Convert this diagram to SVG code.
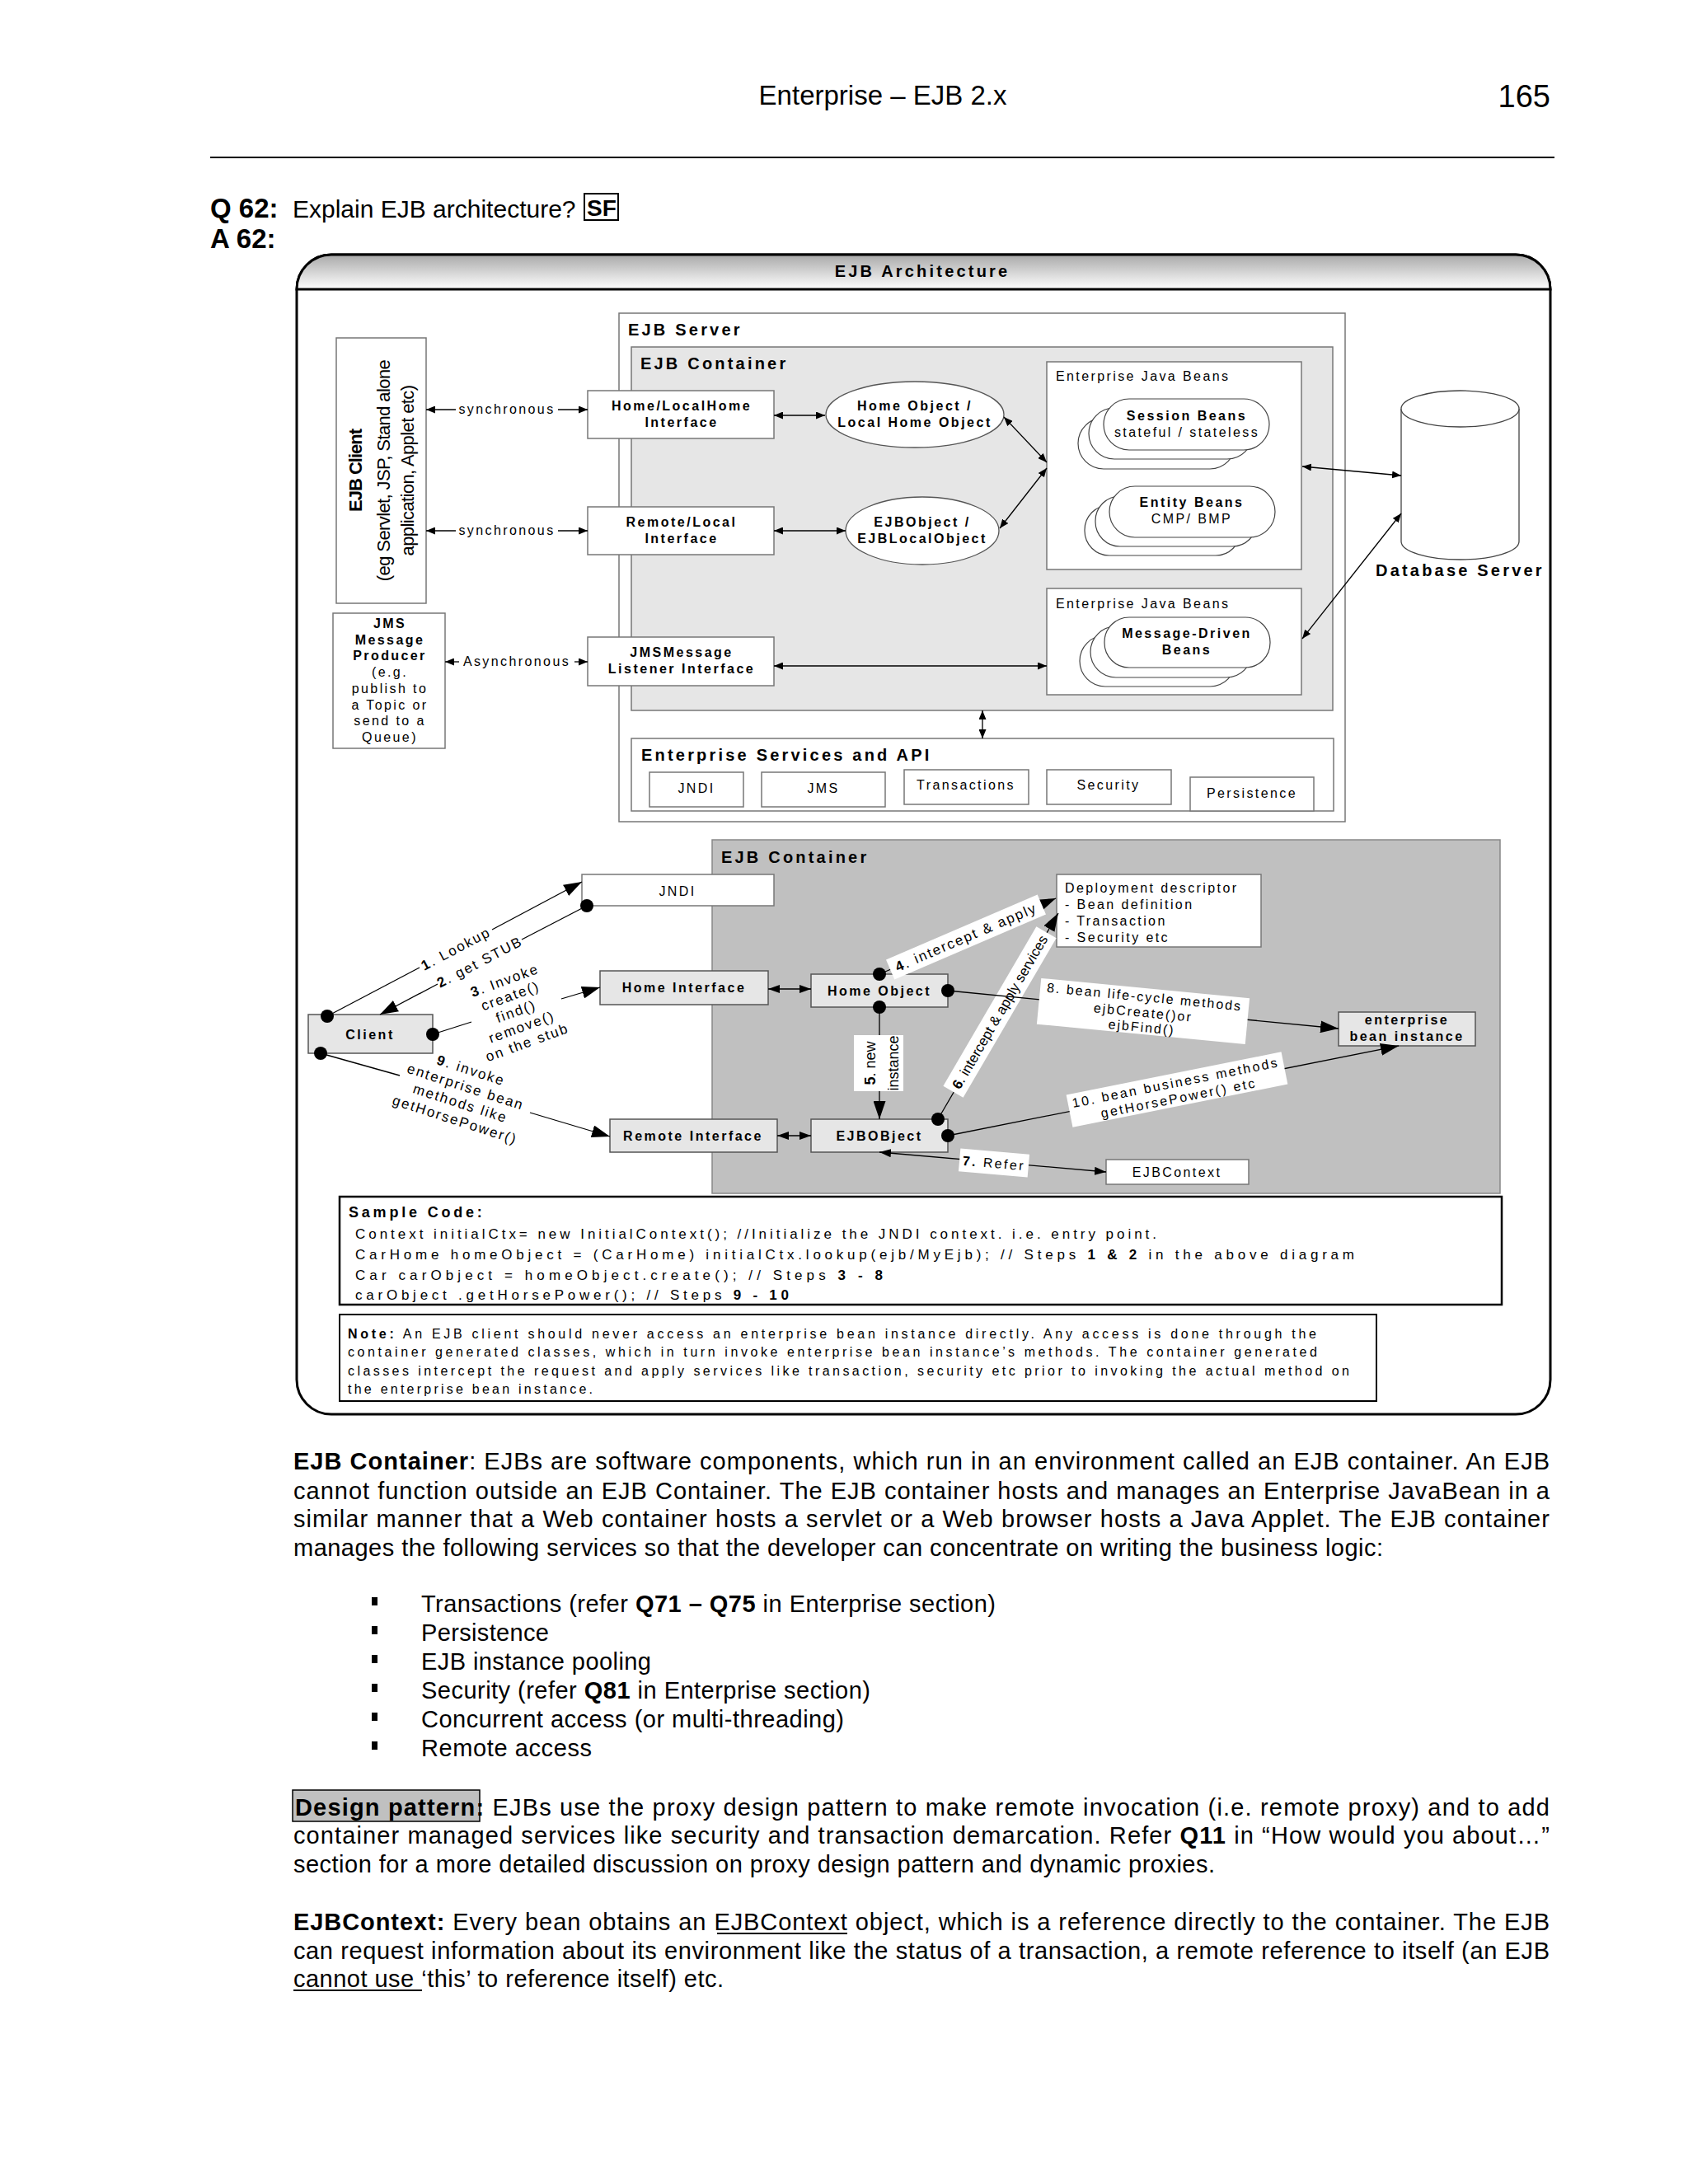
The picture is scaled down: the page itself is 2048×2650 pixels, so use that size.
<svg xmlns="http://www.w3.org/2000/svg" width="2048" height="2650" viewBox="0 0 2048 2650">
<style>
text{font-family:"Liberation Sans",Arial,sans-serif;fill:#000}
.b{font-weight:bold}
.lb{font-size:16px;letter-spacing:2.4px}
.lbb{font-size:16px;letter-spacing:2.5px;font-weight:bold}
.hd{font-size:20px;letter-spacing:3.2px;font-weight:bold}
.rl{font-size:17px;letter-spacing:2px}
.body{font-size:29px}
.box{fill:#fff;stroke:#777;stroke-width:1.5}
.gbox{fill:#e6e6e6;stroke:#555;stroke-width:1.5}
.ln{stroke:#000;stroke-width:1.3;fill:none}
.dot{fill:#000}
.wl{fill:#fff;stroke:none}
</style>
<defs>
<linearGradient id="hg" x1="0" y1="0" x2="0" y2="1">
<stop offset="0" stop-color="#a9a9a9"/><stop offset="1" stop-color="#ffffff"/>
</linearGradient>
<marker id="sa" viewBox="0 0 11 9" refX="11" refY="4.5" markerWidth="11" markerHeight="9" markerUnits="userSpaceOnUse" orient="auto-start-reverse"><path d="M0,0 L11,4.5 L0,9 z"/></marker>
<marker id="ma" viewBox="0 0 14 10" refX="14" refY="5" markerWidth="14" markerHeight="10" markerUnits="userSpaceOnUse" orient="auto-start-reverse"><path d="M0,0 L14,5 L0,10 z"/></marker>
<marker id="la" viewBox="0 0 22 15" refX="22" refY="7.5" markerWidth="22" markerHeight="15" markerUnits="userSpaceOnUse" orient="auto-start-reverse"><path d="M0,0 L22,7.5 L0,15 z"/></marker>
</defs>
<rect width="2048" height="2650" fill="#fff"/>

<!-- page header -->
<g id="page-header">
<text x="1071" y="127" font-size="33" text-anchor="middle">Enterprise – EJB 2.x</text>
<text x="1881" y="130" font-size="38" text-anchor="end">165</text>
<line x1="255" y1="191" x2="1886" y2="191" stroke="#000" stroke-width="2"/>
<text x="255" y="264" font-size="33" class="b">Q 62:</text>
<text x="355" y="264" font-size="30">Explain EJB architecture?</text>
<text x="712" y="262" font-size="28" class="b">SF</text>
<rect x="709" y="235" width="41" height="32" fill="none" stroke="#000" stroke-width="2"/>
<text x="255" y="301" font-size="33" class="b">A 62:</text>
</g>

<!-- frame -->
<g id="frame">
<path d="M402,309 L1839,309 A42,42 0 0 1 1881,351 L1881,1674 A42,42 0 0 1 1839,1716 L402,1716 A42,42 0 0 1 360,1674 L360,351 A42,42 0 0 1 402,309 Z" fill="#fff" stroke="#000" stroke-width="3"/>
<path d="M360,351 A42,42 0 0 1 402,309 L1839,309 A42,42 0 0 1 1881,351 Z" fill="url(#hg)" stroke="#000" stroke-width="3"/>
<text x="1119" y="336" class="hd" font-size="19" text-anchor="middle">EJB Architecture</text>
</g>

<!-- upper architecture -->
<g id="ejb-server">
<rect x="751" y="380" width="881" height="617" class="box"/>
<text x="762" y="407" class="hd">EJB Server</text>
</g>
<g id="ejb-container-top">
<rect x="766" y="421" width="851" height="441" fill="#e6e6e6" stroke="#777" stroke-width="1.5"/>
<text x="777" y="448" class="hd">EJB Container</text>
</g>
<g id="ejb-client">
<rect x="408" y="410" width="109" height="322" class="box"/>
<text transform="translate(439,571) rotate(-90)" font-size="22" class="b" letter-spacing="-1" text-anchor="middle">EJB Client</text>
<text transform="translate(473,571) rotate(-90)" font-size="22" letter-spacing="-0.6" text-anchor="middle">(eg Servlet, JSP, Stand alone</text>
<text transform="translate(502,571) rotate(-90)" font-size="22" letter-spacing="-0.6" text-anchor="middle">application, Applet etc)</text>
</g>
<g id="jms-producer">
<rect x="404" y="744" width="136" height="164" class="box"/>
<g text-anchor="middle" class="lb">
<text x="473" y="762" class="b">JMS</text>
<text x="473" y="782" class="b">Message</text>
<text x="473" y="801" class="b">Producer</text>
<text x="473" y="821">(e.g.</text>
<text x="473" y="841">publish  to</text>
<text x="473" y="861">a Topic or</text>
<text x="473" y="880">send to a</text>
<text x="473" y="900">Queue)</text>
</g>
</g>
<g id="home-interface-top">
<rect x="713" y="474" width="226" height="58" class="box"/>
<text x="827" y="498" class="lbb" text-anchor="middle">Home/LocalHome</text>
<text x="827" y="518" class="lbb" text-anchor="middle">Interface</text>
</g>
<g id="remote-interface-top">
<rect x="713" y="615" width="226" height="58" class="box"/>
<text x="827" y="639" class="lbb" text-anchor="middle">Remote/Local</text>
<text x="827" y="659" class="lbb" text-anchor="middle">Interface</text>
</g>
<g id="jms-listener">
<rect x="713" y="773" width="226" height="59" class="box"/>
<text x="827" y="797" class="lbb" text-anchor="middle">JMSMessage</text>
<text x="827" y="817" class="lbb" text-anchor="middle">Listener Interface</text>
</g>
<g id="home-object-top">
<ellipse cx="1110" cy="503" rx="108" ry="40" fill="#fff" stroke="#555" stroke-width="1.3"/>
<text x="1110" y="498" class="lbb" text-anchor="middle">Home Object /</text>
<text x="1110" y="518" class="lbb" text-anchor="middle">Local Home Object</text>
</g>
<g id="ejbobject-top">
<ellipse cx="1119" cy="644" rx="93" ry="41" fill="#fff" stroke="#555" stroke-width="1.3"/>
<text x="1119" y="639" class="lbb" text-anchor="middle">EJBObject /</text>
<text x="1119" y="659" class="lbb" text-anchor="middle">EJBLocalObject</text>
</g>
<g id="ejb-beans-1">
<rect x="1270" y="439" width="309" height="252" fill="#fff" stroke="#777" stroke-width="1.5"/>
<text x="1281" y="462" class="lb">Enterprise Java Beans</text>
</g>
<g id="session-beans" fill="#fff" stroke="#444" stroke-width="1.2">
<rect x="1308" y="507" width="191" height="62" rx="31"/>
<rect x="1321" y="495" width="199" height="62" rx="31"/>
<rect x="1339" y="484" width="201" height="62" rx="31"/>
<text x="1440" y="510" class="lbb" text-anchor="middle" stroke="none">Session Beans</text>
<text x="1440" y="530" class="lb" text-anchor="middle" stroke="none">stateful / stateless</text>
</g>
<g id="entity-beans" fill="#fff" stroke="#444" stroke-width="1.2">
<rect x="1316" y="613" width="189" height="61" rx="30"/>
<rect x="1329" y="602" width="196" height="61" rx="30"/>
<rect x="1346" y="590" width="201" height="62" rx="31"/>
<text x="1446" y="615" class="lbb" text-anchor="middle" stroke="none">Entity Beans</text>
<text x="1446" y="635" class="lb" text-anchor="middle" stroke="none">CMP/ BMP</text>
</g>
<g id="ejb-beans-2">
<rect x="1270" y="714" width="309" height="129" fill="#fff" stroke="#777" stroke-width="1.5"/>
<text x="1281" y="738" class="lb">Enterprise Java Beans</text>
</g>
<g id="mdb-beans" fill="#fff" stroke="#444" stroke-width="1.2">
<rect x="1310" y="771" width="189" height="62" rx="31"/>
<rect x="1323" y="760" width="196" height="62" rx="31"/>
<rect x="1340" y="749" width="201" height="61" rx="30"/>
<text x="1440" y="774" class="lbb" text-anchor="middle" stroke="none">Message-Driven</text>
<text x="1440" y="794" class="lbb" text-anchor="middle" stroke="none">Beans</text>
</g>
<g id="database-server">
<path d="M1700,496 L1700,657 A71.5,22 0 0 0 1843,657 L1843,496" fill="#fff" stroke="#444" stroke-width="1.3"/>
<ellipse cx="1771.5" cy="496" rx="71.5" ry="22" fill="#fff" stroke="#444" stroke-width="1.3"/>
<text x="1669" y="699" class="hd">Database Server</text>
</g>
<g id="enterprise-services">
<rect x="766" y="896" width="852" height="88" class="box"/>
<text x="778" y="923" class="hd">Enterprise Services and API</text>
<rect x="788" y="937" width="114" height="42" class="box"/>
<text x="845" y="962" class="lb" text-anchor="middle">JNDI</text>
<rect x="924" y="937" width="150" height="42" class="box"/>
<text x="999" y="962" class="lb" text-anchor="middle">JMS</text>
<rect x="1097" y="934" width="151" height="42" class="box"/>
<text x="1172" y="958" class="lb" text-anchor="middle">Transactions</text>
<rect x="1270" y="934" width="151" height="42" class="box"/>
<text x="1345" y="958" class="lb" text-anchor="middle">Security</text>
<rect x="1444" y="943" width="150" height="41" class="box"/>
<text x="1519" y="968" class="lb" text-anchor="middle">Persistence</text>
</g>

<!-- lower container -->
<g id="ejb-container-bottom">
<rect x="864" y="1019" width="956" height="429" fill="#c0c0c0" stroke="#888" stroke-width="1.5"/>
<text x="875" y="1047" class="hd">EJB Container</text>
</g>
<g id="jndi">
<rect x="706" y="1061" width="233" height="38" class="box"/>
<text x="822" y="1087" class="lb" letter-spacing="4" text-anchor="middle">JNDI</text>
</g>
<g id="home-interface">
<rect x="728" y="1178" width="204" height="41" class="gbox"/>
<text x="830" y="1204" class="lbb" text-anchor="middle">Home Interface</text>
</g>
<g id="home-object">
<rect x="984" y="1182" width="166" height="40" class="gbox"/>
<text x="1067" y="1208" class="lbb" text-anchor="middle">Home Object</text>
</g>
<g id="client">
<rect x="374" y="1231" width="151" height="47" class="gbox"/>
<text x="449" y="1261" class="lbb" text-anchor="middle">Client</text>
</g>
<g id="remote-interface">
<rect x="740" y="1358" width="203" height="40" class="gbox"/>
<text x="841" y="1384" class="lbb" text-anchor="middle">Remote Interface</text>
</g>
<g id="ejbobject">
<rect x="984" y="1358" width="166" height="40" class="gbox"/>
<text x="1067" y="1384" class="lbb" text-anchor="middle">EJBOBject</text>
</g>
<g id="deployment-descriptor">
<rect x="1282" y="1061" width="248" height="88" class="box"/>
<text x="1292" y="1083" class="lb" letter-spacing="2.5">Deployment descriptor</text>
<text x="1292" y="1103" class="lb" letter-spacing="2"> - Bean definition</text>
<text x="1292" y="1123" class="lb" letter-spacing="2"> - Transaction</text>
<text x="1292" y="1143" class="lb" letter-spacing="2"> - Security etc</text>
</g>
<g id="bean-instance">
<rect x="1624" y="1228" width="166" height="41" class="gbox"/>
<text x="1707" y="1243" class="lbb" text-anchor="middle">enterprise</text>
<text x="1707" y="1263" class="lbb" text-anchor="middle">bean instance</text>
</g>
<g id="ejbcontext">
<rect x="1342" y="1407" width="173" height="30" class="box"/>
<text x="1428" y="1428" class="lb" text-anchor="middle">EJBContext</text>
</g>

<!-- connectors -->
<g id="connectors">
<g id="c-sync1">
<line x1="553" y1="497" x2="517" y2="497" class="ln" marker-end="url(#sa)"/>
<line x1="677" y1="497" x2="713" y2="497" class="ln" marker-end="url(#sa)"/>
<text x="615" y="502" class="lb" text-anchor="middle">synchronous</text>
</g>
<g id="c-sync2">
<line x1="553" y1="644" x2="517" y2="644" class="ln" marker-end="url(#sa)"/>
<line x1="677" y1="644" x2="713" y2="644" class="ln" marker-end="url(#sa)"/>
<text x="615" y="649" class="lb" text-anchor="middle">synchronous</text>
</g>
<g id="c-async">
<line x1="557" y1="803" x2="540" y2="803" class="ln" marker-end="url(#sa)"/>
<line x1="697" y1="803" x2="713" y2="803" class="ln" marker-end="url(#sa)"/>
<text x="627" y="808" class="lb" text-anchor="middle">Asynchronous</text>
</g>
<line x1="939" y1="504" x2="1001" y2="504" class="ln" marker-start="url(#sa)" marker-end="url(#sa)"/>
<line x1="939" y1="644" x2="1026" y2="644" class="ln" marker-start="url(#sa)" marker-end="url(#sa)"/>
<line x1="939" y1="808" x2="1270" y2="808" class="ln" marker-start="url(#sa)" marker-end="url(#sa)"/>
<line x1="1218" y1="506" x2="1270" y2="561" class="ln" marker-start="url(#sa)" marker-end="url(#sa)"/>
<line x1="1213" y1="641" x2="1270" y2="568" class="ln" marker-start="url(#sa)" marker-end="url(#sa)"/>
<line x1="1580" y1="566" x2="1700" y2="577" class="ln" marker-start="url(#sa)" marker-end="url(#sa)"/>
<line x1="1580" y1="775" x2="1700" y2="623" class="ln" marker-start="url(#sa)" marker-end="url(#sa)"/>
<line x1="1192" y1="862" x2="1192" y2="896" class="ln" marker-start="url(#sa)" marker-end="url(#sa)"/>

<g id="c1-lookup">
<line x1="397" y1="1233" x2="509" y2="1174" class="ln"/>
<line x1="597" y1="1128" x2="706" y2="1070" class="ln" marker-end="url(#la)"/>
<text transform="translate(553,1151) rotate(-27.9)" y="6" class="rl" text-anchor="middle"><tspan class="b">1</tspan>. Lookup</text>
</g>
<g id="c2-getstub">
<line x1="712" y1="1099" x2="633" y2="1140" class="ln"/>
<line x1="531" y1="1194" x2="461" y2="1231" class="ln" marker-end="url(#la)"/>
<text transform="translate(582,1167) rotate(-27.6)" y="6" class="rl" text-anchor="middle"><tspan class="b">2</tspan>. get STUB</text>
</g>
<g id="c3-invoke">
<line x1="525" y1="1255" x2="572" y2="1240" class="ln"/>
<line x1="681" y1="1212" x2="728" y2="1198" class="ln" marker-end="url(#la)"/>
<g transform="translate(626,1227) rotate(-20)" class="rl" text-anchor="middle">
<text y="-34"><tspan class="b">3</tspan>. Invoke</text>
<text y="-14">create()</text>
<text y="6">find()</text>
<text y="26">remove()</text>
<text y="46">on the stub</text>
</g>
</g>
<g id="c9-invoke">
<line x1="389" y1="1278" x2="485" y2="1305" class="ln"/>
<line x1="643" y1="1350" x2="740" y2="1379" class="ln" marker-end="url(#la)"/>
<g transform="translate(562,1328) rotate(18)" class="rl" text-anchor="middle">
<text y="-25"><tspan class="b">9</tspan>. invoke</text>
<text y="-4">enterprise bean</text>
<text y="17">methods like</text>
<text y="38">getHorsePower()</text>
</g>
</g>
<line x1="932" y1="1200" x2="984" y2="1200" class="ln" marker-start="url(#ma)" marker-end="url(#ma)"/>
<line x1="943" y1="1378" x2="984" y2="1378" class="ln" marker-start="url(#ma)" marker-end="url(#ma)"/>
<g id="c5-new">
<line x1="1067" y1="1222" x2="1067" y2="1358" class="ln" marker-end="url(#la)"/>
<g transform="translate(1066,1290) rotate(-90)">
<rect x="-34" y="-30" width="68" height="60" class="wl"/>
<text y="-4" font-size="18" text-anchor="middle"><tspan class="b">5</tspan>. new</text>
<text y="24" font-size="18" text-anchor="middle">instance</text>
</g>
</g>
<g id="c4-intercept">
<line x1="1067" y1="1182" x2="1281" y2="1090" class="ln" marker-end="url(#la)"/>
<g transform="translate(1172,1137) rotate(-23.3)">
<rect x="-100" y="-13" width="200" height="26" class="wl"/>
<text y="6" class="rl" text-anchor="middle"><tspan class="b">4</tspan>. intercept &amp; apply</text>
</g>
</g>
<g id="c6-intercept">
<line x1="1138" y1="1358" x2="1284" y2="1108" class="ln" marker-end="url(#la)"/>
<g transform="translate(1213,1228) rotate(-59.7)">
<rect x="-112" y="-14" width="224" height="28" class="wl"/>
<text y="6" font-size="17" text-anchor="middle"><tspan class="b">6</tspan>. intercept &amp; apply services</text>
</g>
</g>
<g id="c8-lifecycle">
<line x1="1150" y1="1202" x2="1624" y2="1248" class="ln" marker-end="url(#la)"/>
<g transform="translate(1387,1227) rotate(5.5)" class="lb" text-anchor="middle">
<rect x="-127" y="-28" width="254" height="56" class="wl"/>
<text y="-12" letter-spacing="2">8. bean life-cycle methods</text>
<text y="7" letter-spacing="2">ejbCreate()or</text>
<text y="25" letter-spacing="2">ejbFind()</text>
</g>
</g>
<g id="c10-business">
<line x1="1150" y1="1378" x2="1697" y2="1269" class="ln" marker-end="url(#la)"/>
<g transform="translate(1428,1322) rotate(-11.3)" class="lb" text-anchor="middle">
<rect x="-133" y="-20" width="266" height="40" class="wl"/>
<text y="-3">10. bean business methods</text>
<text y="16">getHorsePower() etc</text>
</g>
</g>
<g id="c7-refer">
<line x1="1067" y1="1398" x2="1342" y2="1422" class="ln" marker-start="url(#ma)" marker-end="url(#ma)"/>
<g transform="translate(1206,1411) rotate(5)">
<rect x="-42" y="-14" width="84" height="28" class="wl"/>
<text y="6" class="lb" text-anchor="middle"><tspan class="b">7.</tspan> Refer</text>
</g>
</g>
<g id="dots">
<circle cx="712" cy="1099" r="8" class="dot"/>
<circle cx="397" cy="1233" r="8" class="dot"/>
<circle cx="525" cy="1255" r="8" class="dot"/>
<circle cx="389" cy="1278" r="8" class="dot"/>
<circle cx="1067" cy="1182" r="8" class="dot"/>
<circle cx="1150" cy="1202" r="8" class="dot"/>
<circle cx="1067" cy="1222" r="8" class="dot"/>
<circle cx="1138" cy="1358" r="8" class="dot"/>
<circle cx="1150" cy="1378" r="8" class="dot"/>
</g>
</g>

<!-- sample code -->
<g id="sample-code">
<rect x="412" y="1452" width="1410" height="131" fill="#fff" stroke="#000" stroke-width="2.5"/>
<text x="423" y="1477" font-size="18" class="b" letter-spacing="3.8">Sample Code:</text>
<text x="431" y="1503" font-size="17" textLength="972" lengthAdjust="spacing">Context initialCtx= new InitialContext();  //Initialize the JNDI context. i.e. entry point.</text>
<text x="431" y="1528" font-size="17" textLength="1212" lengthAdjust="spacing">CarHome homeObject =  (CarHome)  initialCtx.lookup(ejb/MyEjb); //  Steps <tspan class="b">1 &amp; 2</tspan> in the above diagram</text>
<text x="431" y="1553" font-size="17" textLength="640" lengthAdjust="spacing">Car   carObject  = homeObject.create(); // Steps  <tspan class="b">3 - 8</tspan></text>
<text x="431" y="1577" font-size="17" textLength="526" lengthAdjust="spacing">carObject .getHorsePower();  // Steps <tspan class="b">9 - 10</tspan></text>
</g>
<g id="note">
<rect x="412" y="1595" width="1258" height="105" fill="#fff" stroke="#000" stroke-width="2"/>
<text x="422" y="1624" font-size="16" textLength="1175" lengthAdjust="spacing"><tspan class="b">Note:</tspan> An EJB client should never access an enterprise bean instance directly. Any access is done through the</text>
<text x="422" y="1646" font-size="16" textLength="1176" lengthAdjust="spacing">container generated classes, which in turn invoke enterprise bean instance’s methods. The container generated</text>
<text x="422" y="1669" font-size="16" textLength="1215" lengthAdjust="spacing">classes intercept the request and apply services like transaction, security etc prior to invoking the actual method on</text>
<text x="422" y="1691" font-size="16" textLength="297" lengthAdjust="spacing">the enterprise bean instance.</text>
</g>

<!-- body text -->
<g id="body-text" class="body">
<text x="356" y="1783" textLength="1524" lengthAdjust="spacing"><tspan class="b">EJB Container</tspan>: EJBs are software components, which run in an environment called an EJB container. An EJB</text>
<text x="356" y="1819" textLength="1524" lengthAdjust="spacing">cannot function outside an EJB Container. The EJB container hosts and manages an Enterprise JavaBean in a</text>
<text x="356" y="1853" textLength="1524" lengthAdjust="spacing">similar manner that a Web container hosts a servlet or a Web browser hosts a Java Applet. The EJB container</text>
<text x="356" y="1888" textLength="1322" lengthAdjust="spacing">manages the following services so that the developer can concentrate on writing the business logic:</text>
<g fill="#000">
<rect x="451" y="1938" width="7" height="10"/>
<rect x="451" y="1973" width="7" height="10"/>
<rect x="451" y="2008" width="7" height="10"/>
<rect x="451" y="2043" width="7" height="10"/>
<rect x="451" y="2078" width="7" height="10"/>
<rect x="451" y="2113" width="7" height="10"/>
</g>
<text x="511" y="1956" textLength="697" lengthAdjust="spacing">Transactions (refer <tspan class="b">Q71 – Q75</tspan> in Enterprise section)</text>
<text x="511" y="1991" textLength="155" lengthAdjust="spacing">Persistence</text>
<text x="511" y="2026" textLength="279" lengthAdjust="spacing">EJB instance pooling</text>
<text x="511" y="2061" textLength="545" lengthAdjust="spacing">Security (refer <tspan class="b">Q81</tspan> in Enterprise section)</text>
<text x="511" y="2096" textLength="513" lengthAdjust="spacing">Concurrent access (or multi-threading)</text>
<text x="511" y="2131" textLength="207" lengthAdjust="spacing">Remote access</text>
<rect x="355" y="2172" width="227" height="38" fill="#c0c0c0" stroke="#000" stroke-width="1.5"/>
<text x="358" y="2203" textLength="1522" lengthAdjust="spacing"><tspan class="b">Design pattern:</tspan> EJBs use the proxy design pattern to make remote invocation (i.e. remote proxy) and to add</text>
<text x="356" y="2237" textLength="1524" lengthAdjust="spacing">container managed services like security and transaction demarcation. Refer <tspan class="b">Q11</tspan> in “How would you about…”</text>
<text x="356" y="2272" textLength="1118" lengthAdjust="spacing">section for a more detailed discussion on proxy design pattern and dynamic proxies.</text>
<text x="356" y="2342" textLength="1524" lengthAdjust="spacing"><tspan class="b">EJBContext:</tspan> Every bean obtains an EJBContext object, which is a reference directly to the container. The EJB</text>
<line x1="870" y1="2346" x2="1028" y2="2346" stroke="#000" stroke-width="2"/>
<text x="356" y="2377" textLength="1524" lengthAdjust="spacing">can request information about its environment like the status of a transaction, a remote reference to itself (an EJB</text>
<text x="356" y="2411" textLength="522" lengthAdjust="spacing">cannot use ‘this’ to reference itself) etc.</text>
<line x1="356" y1="2415" x2="512" y2="2415" stroke="#000" stroke-width="2"/>
</g>
</svg>
